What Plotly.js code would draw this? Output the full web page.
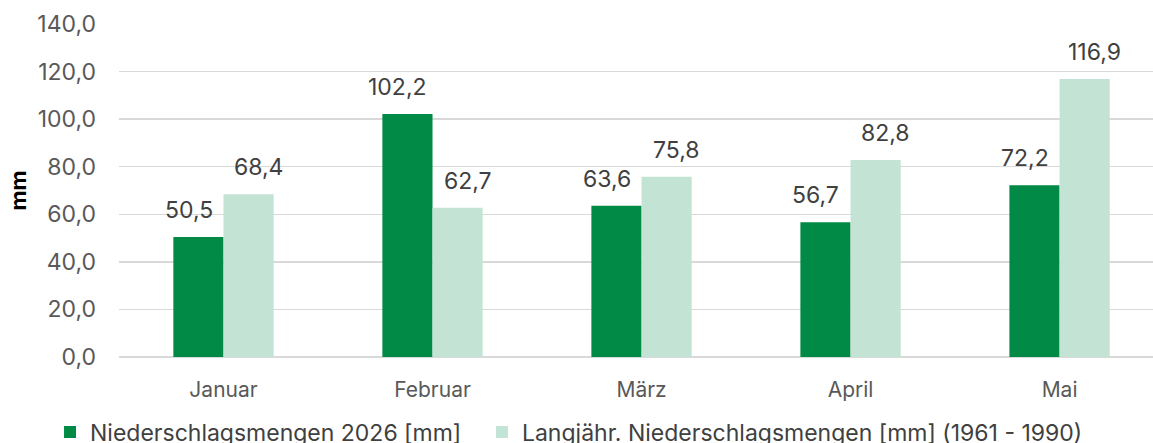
<!DOCTYPE html>
<html>
<head>
<meta charset="utf-8">
<script src="https://cdn.plot.ly/plotly-3.0.1.min.js"></script>
<style>
html,body{margin:0;padding:0;background:#fff;overflow:hidden;}
#chart{width:1153px;height:443px;}
</style>
</head>
<body>
<div id="chart"></div>
<script>
const months = ["Januar", "Februar", "März", "April", "Mai"];
const rain2026 = [50.5, 102.2, 63.6, 56.7, 72.2];
const rainLongterm = [68.4, 62.7, 75.8, 82.8, 116.9];
const seriesNames = ["Niederschlagsmengen 2026 [mm]", "Langjähr. Niederschlagsmengen [mm] (1961 - 1990)"];
const yTicks = [0, 20, 40, 60, 80, 100, 120, 140];

const darkGreen = "#008a45";
const lightGreen = "#c3e3d4";
const fmt = v => v.toFixed(1).replace(".", ",");

const traces = [
  {type: "bar", name: seriesNames[0], x: months, y: rain2026, marker: {color: darkGreen}, hoverinfo: "x+y", legend: "legend"},
  {type: "bar", name: seriesNames[1], x: months, y: rainLongterm, marker: {color: lightGreen}, hoverinfo: "x+y", legend: "legend2"}
];

const annotations = [];
[rain2026, rainLongterm].forEach((arr, s) => {
  arr.forEach((v, i) => {
    annotations.push({
      x: months[i], y: v, xref: "x", yref: "y",
      text: fmt(v), showarrow: false,
      xanchor: "center", yanchor: "bottom",
      xshift: s === 0 ? -35 : 35, yshift: 11,
      font: {family: "Inter, Roboto, sans-serif", size: 23, color: "#404040"}
    });
  });
});

const legendBase = {orientation: "h", yref: "container", y: 0.0248, yanchor: "middle", xref: "container", xanchor: "left",
                    font: {size: 23, color: "#404040"}, itemwidth: 30, bgcolor: "rgba(0,0,0,0)"};

const layout = {
  width: 1153, height: 443,
  margin: {l: 119, r: 0, t: 24, b: 86, autoexpand: false},
  paper_bgcolor: "#fff", plot_bgcolor: "#fff",
  separators: ",.",
  font: {family: "Inter, Roboto, sans-serif", size: 20, color: "#595959"},
  barmode: "group", bargap: 0.52, bargroupgap: 0,
  showlegend: true,
  legend: Object.assign({}, legendBase, {x: 0.0434}),
  legend2: Object.assign({}, legendBase, {x: 0.418}),
  xaxis: {type: "category", range: [-0.5, 4.447], showgrid: false, zeroline: false, showline: false,
          ticks: "", tickfont: {size: 21, color: "#595959"}, ticklabelstandoff: 18, fixedrange: true},
  yaxis: {range: [0, 140], tickvals: yTicks, tickformat: ".1f", showgrid: true, gridcolor: "#d9d9d9", gridwidth: 1.5,
          zeroline: true, zerolinecolor: "#d9d9d9", zerolinewidth: 1.5, showline: false, ticks: "",
          ticklabelstandoff: 22, tickfont: {size: 23, color: "#595959"},
          title: {text: "<b>mm</b>", font: {size: 22, color: "#000"}, standoff: 4}, automargin: false, fixedrange: true},
  annotations: annotations
};

Plotly.newPlot("chart", traces, layout, {displayModeBar: false, staticPlot: true});
</script>
</body>
</html>
